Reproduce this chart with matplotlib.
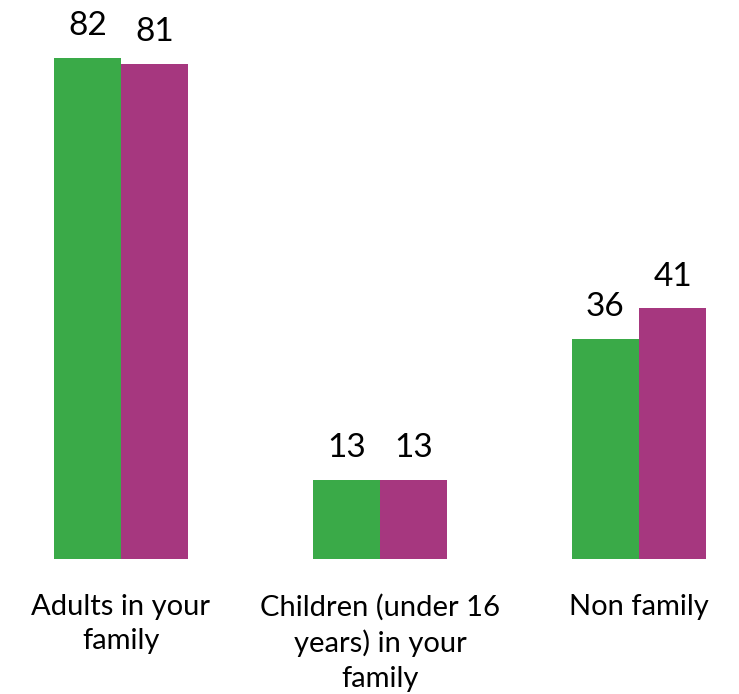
import numpy as np
import matplotlib
matplotlib.use("Agg")
import matplotlib.pyplot as plt

plt.rcParams['font.family'] = ['Lato', 'DejaVu Sans']

categories = ['Adults in your\nfamily', 'Children (under 16\nyears) in your\nfamily', 'Non family']
series_a = [82, 13, 36]
series_b = [81, 13, 41]

green = '#3aaa48'
purple = '#a6377f'

fig = plt.figure(figsize=(7.39, 6.94), dpi=100)
ax = fig.add_axes([0, 135 / 694, 1, 559 / 694])

x = np.arange(len(categories))
w = 0.26
bars_a = ax.bar(x - w / 2, series_a, w, color=green)
bars_b = ax.bar(x + w / 2, series_b, w, color=purple)

for bars in (bars_a, bars_b):
    for b in bars:
        ax.annotate(f'{b.get_height():.0f}', (b.get_x() + b.get_width() / 2, b.get_height()),
                    xytext=(0, 12), textcoords='offset points',
                    ha='center', va='bottom', fontsize=24)

for xi, lab in zip(x, categories):
    ax.annotate(lab, (xi, 0), xytext=(0, -25), textcoords='offset points',
                ha='center', va='top', fontsize=21, linespacing=1.4,
                annotation_clip=False)

ax.set_xlim(-121 / 259, (739 - 121) / 259)
ax.set_ylim(0, 559 / 6.11)
ax.axis('off')

fig.savefig('out.png', dpi=100)
